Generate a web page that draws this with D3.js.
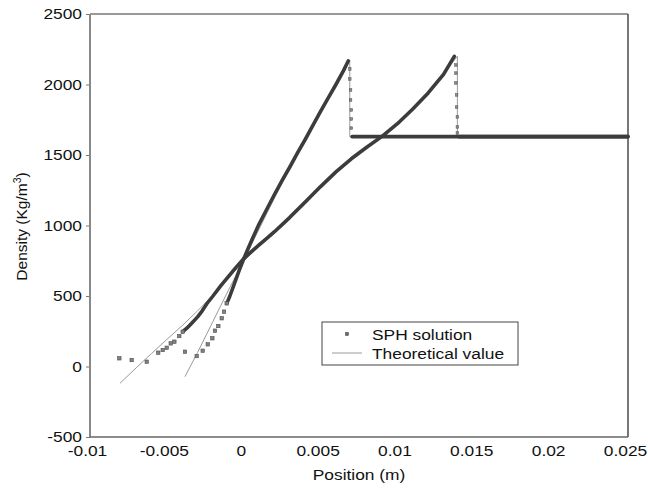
<!DOCTYPE html>
<html>
<head>
<meta charset="utf-8">
<script src="https://cdn.jsdelivr.net/npm/d3@7"></script>
<style>
  body { margin: 0; background: #fff; }
  svg { font-family: "Liberation Sans", Arial, sans-serif; }
  .tick text { fill: #111; }
</style>
</head>
<body>
<svg id="chart"></svg>
<script>
// tick values
const xTicks = [-0.01, -0.005, 0, 0.005, 0.01, 0.015, 0.02, 0.025];
const yTicks = [-500, 0, 500, 1000, 1500, 2000, 2500];

// SPH particles, earlier time (steep profile)
const sphALow = [[-0.00382,105],[-0.00306,74],[-0.00267,112],[-0.00234,157],[-0.00204,200],
  [-0.00187,254],[-0.00165,287],[-0.00143,342],[-0.00128,389],[-0.00111,448]];
const sphARise = [[-0.0011,448],[-0.0009,500],[-0.0007,560],[-0.0005,620],[-0.0003,680],[-0.0001,735],
  [0.0001,790],[0.0003,840],[0.0006,915],[0.001,1010],[0.0015,1115],[0.002,1220],[0.0025,1320],
  [0.003,1415],[0.0035,1515],[0.004,1610],[0.0045,1710],[0.005,1810],[0.0055,1905],[0.006,2000],
  [0.0065,2100],[0.0068,2167]];
const sphAShock = [[0.0069,2110],[0.0069,2039],[0.00695,1961],[0.00695,1890],[0.007,1819],
  [0.007,1755],[0.007,1691]];
const sphAFlat = [[0.00705,1630],[0.01,1630],[0.015,1630],[0.02,1630],[0.025,1630]];

// SPH particles, later time (shallow profile)
const sphBLow = [[-0.00809,58],[-0.00729,46],[-0.00631,34],[-0.00556,98],[-0.00527,117],
  [-0.00501,133],[-0.00475,164],[-0.00451,176],[-0.00419,216],[-0.00397,247]];
const sphBRise = [[-0.00397,247],[-0.0037,272],[-0.0034,305],[-0.003,352],[-0.0027,395],[-0.0024,445],
  [-0.002,500],[-0.0015,572],[-0.001,638],[-0.0005,703],[0,765],[0.0005,815],[0.001,862],
  [0.0015,908],[0.002,956],[0.003,1058],[0.004,1166],[0.005,1276],[0.006,1380],[0.007,1473],
  [0.008,1555],[0.009,1632],[0.01,1722],[0.011,1826],[0.012,1940],[0.013,2072],[0.0137,2200]];
const sphBShock = [[0.0138,2138],[0.0138,2081],[0.0138,2011],[0.01385,1926],[0.01385,1840],
  [0.0139,1770],[0.0139,1699],[0.0139,1656]];
const sphBFlat = [[0.014,1630],[0.025,1630]];

// theoretical profiles
const theoryA = [[-0.00382,-72],[-0.003,100],[-0.002,320],[-0.001,540],[0,752],[0.001,975],
  [0.002,1195],[0.003,1405],[0.004,1605],[0.005,1805],[0.006,2000],[0.0069,2170],[0.0069,1630],
  [0.025,1630]];
const theoryB = [[-0.00805,-119],[-0.007,-10],[-0.006,92],[-0.005,192],[-0.004,290],[-0.003,395],
  [-0.002,505],[-0.001,625],[0,748],[0.001,852],[0.002,945],[0.003,1045],[0.004,1152],
  [0.005,1265],[0.006,1372],[0.007,1468],[0.008,1555],[0.009,1632],[0.01,1722],[0.011,1830],
  [0.012,1945],[0.013,2078],[0.0139,2200],[0.0139,1630],[0.025,1630]];

const width = 648, height = 496;
const margin = {top: 14, right: 20, bottom: 59, left: 90};
const w = width - margin.left - margin.right;
const h = height - margin.top - margin.bottom;
const sx = 1.12; // text in the source is slightly wide

const svg = d3.select('#chart').attr('width', width).attr('height', height);
const g = svg.append('g').attr('transform', `translate(${margin.left},${margin.top})`);

const x = d3.scaleLinear().domain([-0.01, 0.025]).range([0, w]);
const y = d3.scaleLinear().domain([-500, 2500]).range([h, 0]);

// axes
const yAxis = d3.axisLeft(y).tickValues(yTicks).tickSize(4).tickSizeOuter(0).tickFormat(d => String(d));
const yG = g.append('g').call(yAxis);
yG.select('.domain').remove();
yG.selectAll('.tick line').attr('stroke', '#777');
yG.selectAll('.tick text').attr('font-size', 15.5).attr('x', -8 / sx)
  .attr('transform', `scale(${sx},1)`);

const xAxis = d3.axisBottom(x).tickValues(xTicks).tickSize(0).tickFormat(d => String(d));
const xG = g.append('g').attr('transform', `translate(0,${h})`).call(xAxis);
xG.select('.domain').remove();
xG.selectAll('.tick text').attr('font-size', 15.5).attr('dy', '1.05em').attr('x', -3 / sx)
  .attr('transform', `scale(${sx},1)`);

// frame
g.append('line').attr('x1', 0).attr('x2', w).attr('y1', 0).attr('y2', 0).attr('stroke', '#999').attr('stroke-width', 2);
g.append('line').attr('x1', 0).attr('x2', 0).attr('y1', 0).attr('y2', h).attr('stroke', '#888').attr('stroke-width', 2);
g.append('line').attr('x1', w).attr('x2', w).attr('y1', 0).attr('y2', h).attr('stroke', '#555').attr('stroke-width', 1.6);
g.append('line').attr('x1', 0).attr('x2', w).attr('y1', h).attr('y2', h).attr('stroke', '#666').attr('stroke-width', 1.6);

const line = d3.line().x(d => x(d[0])).y(d => y(d[1]));

// theory lines
[theoryA, theoryB].forEach(arr => {
  g.append('path').datum(arr).attr('d', line)
    .attr('fill', 'none').attr('stroke', '#9a9a9a').attr('stroke-width', 1);
});

// dense SPH particles drawn as a thick band
[sphARise, sphBRise, sphAFlat, sphBFlat].forEach(arr => {
  g.append('path').datum(arr).attr('d', line)
    .attr('fill', 'none').attr('stroke', '#3c3c3c').attr('stroke-width', 3.6)
    .attr('stroke-linejoin', 'round').attr('stroke-linecap', 'round');
});

// scattered particles
g.selectAll('rect.p').data([].concat(sphALow, sphBLow)).enter().append('rect')
  .attr('class', 'p')
  .attr('x', d => x(d[0]) - 1.7).attr('y', d => y(d[1]) - 1.7)
  .attr('width', 3.4).attr('height', 3.4)
  .attr('fill', '#808080').attr('stroke', '#505050').attr('stroke-width', 0.6);

// particles across the shock
g.selectAll('rect.s').data([].concat(sphAShock, sphBShock)).enter().append('rect')
  .attr('class', 's')
  .attr('x', d => x(d[0]) - 1.3).attr('y', d => y(d[1]) - 1.3)
  .attr('width', 2.6).attr('height', 2.6)
  .attr('fill', '#888').attr('stroke', '#555').attr('stroke-width', 0.5);

// axis titles
svg.append('text').attr('transform', `translate(${margin.left + w / 2},480) scale(${sx},1)`)
  .attr('text-anchor', 'middle').attr('font-size', 15.5).attr('fill', '#111')
  .text('Position (m)');
const yt = svg.append('text').attr('transform', `translate(27,${margin.top + h / 2 + 1}) rotate(-90)`)
  .attr('text-anchor', 'middle').attr('font-size', 15.5).attr('fill', '#111');
yt.append('tspan').text('Density (Kg/m');
yt.append('tspan').attr('dy', -6).attr('font-size', 10.5).text('3');
yt.append('tspan').attr('dy', 6).text(')');

// legend
const lg = svg.append('g').attr('transform', 'translate(322,322)');
lg.append('rect').attr('width', 196).attr('height', 43)
  .attr('fill', '#fff').attr('stroke', '#444').attr('stroke-width', 1);
lg.append('rect').attr('x', 23.5).attr('y', 10.5).attr('width', 3).attr('height', 3)
  .attr('fill', '#666').attr('stroke', '#444').attr('stroke-width', 0.5);
lg.append('line').attr('x1', 10).attr('x2', 40).attr('y1', 31).attr('y2', 31)
  .attr('stroke', '#9a9a9a').attr('stroke-width', 1);
lg.append('text').attr('transform', `translate(50,17.5) scale(${sx},1)`).attr('font-size', 15.5).attr('fill', '#111').text('SPH solution');
lg.append('text').attr('transform', `translate(50,37) scale(${sx},1)`).attr('font-size', 15.5).attr('fill', '#111').text('Theoretical value');
</script>
</body>
</html>
